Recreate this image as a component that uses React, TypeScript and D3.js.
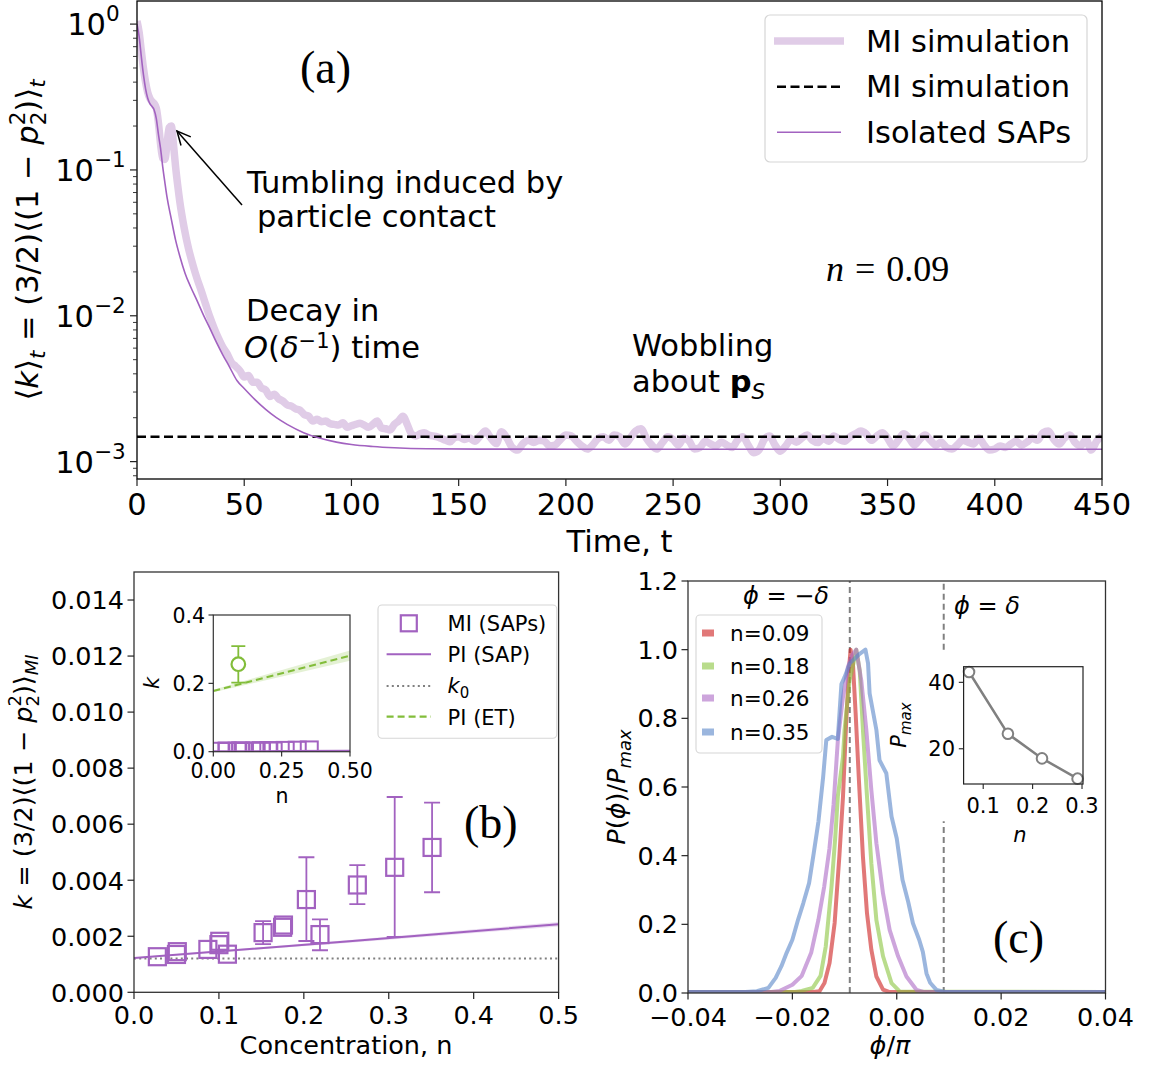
import React from 'react';
import * as d3 from 'd3';

const W = 1159;
const H = 1067;
const SANS = '"DejaVu Sans", sans-serif';
const SERIF = '"Liberation Serif", "DejaVu Serif", serif';
const PURPLE = '#a262c0';
const LIGHT_PURPLE = '#e0cce7';
const GREEN = '#82bd3a';
const GRAY = '#808080';
const FA = 30.5; // font size used in panel (a)

// ---------- (a) relaxation of k(t) ----------
// isolated SAP curve [t, k]
const isoSeries: [number, number][] = [
  [0, 1.0], [1, 0.82], [2, 0.6], [3, 0.45], [4, 0.36], [5, 0.31], [6, 0.285], [7, 0.272],
  [8, 0.258], [9, 0.225], [10, 0.175], [11, 0.14], [12, 0.105], [13, 0.082], [14, 0.065],
  [16, 0.046], [18, 0.033], [20, 0.0255], [22.4, 0.0196], [25, 0.0158], [28, 0.0127],
  [31, 0.0101], [34, 0.0082], [37, 0.0066], [40, 0.0054], [43, 0.0045], [46.6, 0.0036],
  [50, 0.00317], [55, 0.00266], [60, 0.00228], [65, 0.002], [70, 0.0018], [77.7, 0.00158],
  [85, 0.00145], [93, 0.00136], [100, 0.00131], [110, 0.00127], [120, 0.001245],
  [135, 0.001225], [160, 0.001218], [250, 0.001216], [450, 0.001216],
];

// MI simulation, early part [t, k]
const miEarly: [number, number][] = [
  [0, 1.05], [1, 0.88], [2, 0.66], [3, 0.5], [4, 0.4], [5, 0.34], [6, 0.31], [7, 0.295],
  [8, 0.285], [9, 0.265], [10, 0.21], [11, 0.15], [12, 0.12], [13, 0.118], [14, 0.15],
  [15, 0.195], [16, 0.2], [17, 0.15], [18, 0.105], [19, 0.078], [20, 0.06], [22, 0.04],
  [24, 0.029], [26, 0.0225], [28, 0.018], [30, 0.0148], [32, 0.012], [34, 0.0098],
  [36, 0.0082], [38, 0.007], [40, 0.0061], [42, 0.0055], [44, 0.0048], [46, 0.0045],
  [48, 0.0042], [50, 0.0038], [52, 0.0039], [54, 0.0035], [56, 0.0035], [58, 0.0032],
  [60, 0.0031], [62, 0.0028], [64, 0.0029], [66, 0.0027], [68, 0.0026], [70, 0.00245],
  [72, 0.0024], [74, 0.0023], [76, 0.00225], [78, 0.0021], [80, 0.00205], [82, 0.0019],
  [84, 0.00195], [86, 0.00188], [88, 0.0019], [90, 0.00182], [92, 0.0018], [94, 0.00178],
  [96, 0.00185], [98, 0.00172], [100, 0.00176], [102, 0.0018], [104, 0.00183],
  [106, 0.00178], [108, 0.00172], [110, 0.0018], [112, 0.0019], [114, 0.0017],
  [116, 0.00168], [118, 0.00165], [120, 0.0018], [122, 0.0019], [124, 0.00205],
  [126, 0.0018], [128, 0.00155], [130, 0.0015], [132, 0.00155], [134, 0.00158],
  [136, 0.00152], [138, 0.0015], [140, 0.00148], [142, 0.00144], [144, 0.0014],
  [146, 0.00137], [148, 0.00146], [150, 0.00148],
];

// MI simulation, wobbling tail [t, k x 1e-3]
const miTailMilli: [number, number][] = [
  [152.5, 1.42], [155, 1.45], [157.5, 1.38], [160, 1.5], [162.5, 1.62], [165, 1.45], [167.5, 1.33],
  [170, 1.6], [172.5, 1.45], [175, 1.25], [177.5, 1.2], [180, 1.33], [182.5, 1.4], [185, 1.35],
  [187.5, 1.4], [190, 1.38], [192.5, 1.28], [195, 1.3], [197.5, 1.42], [200, 1.52], [202.5, 1.5],
  [205, 1.38], [207.5, 1.28], [210, 1.22], [212.5, 1.3], [215, 1.44], [217.5, 1.48], [220, 1.4],
  [222.5, 1.52], [225, 1.48], [227.5, 1.32], [230, 1.45], [232.5, 1.62], [235, 1.68], [237.5, 1.45],
  [240, 1.3], [242.5, 1.22], [245, 1.35], [247.5, 1.48], [250, 1.42], [252.5, 1.3], [255, 1.45],
  [257.5, 1.38], [260, 1.22], [262.5, 1.25], [265, 1.38], [267.5, 1.32], [270, 1.28], [272.5, 1.36],
  [275, 1.3], [277.5, 1.25], [280, 1.4], [282.5, 1.48], [285, 1.3], [287.5, 1.15], [290, 1.2],
  [292.5, 1.42], [295, 1.5], [297.5, 1.3], [300, 1.18], [302.5, 1.28], [305, 1.42], [307.5, 1.36],
  [310, 1.45], [312.5, 1.52], [315, 1.4], [317.5, 1.35], [320, 1.45], [322.5, 1.38], [325, 1.5],
  [327.5, 1.42], [330, 1.38], [332.5, 1.48], [335, 1.55], [337.5, 1.62], [340, 1.55], [342.5, 1.4],
  [345, 1.5], [347.5, 1.58], [350, 1.45], [352.5, 1.28], [355, 1.4], [357.5, 1.55], [360, 1.45],
  [362.5, 1.3], [365, 1.42], [367.5, 1.52], [370, 1.4], [372.5, 1.3], [375, 1.36], [377.5, 1.25],
  [380, 1.22], [382.5, 1.3], [385, 1.4], [387.5, 1.36], [390, 1.32], [392.5, 1.45], [395, 1.3],
  [397.5, 1.2], [400, 1.22], [402.5, 1.28], [405, 1.25], [407.5, 1.32], [410, 1.38], [412.5, 1.3],
  [415, 1.36], [417.5, 1.45], [420, 1.4], [422.5, 1.58], [425, 1.62], [427.5, 1.42], [430, 1.32],
  [432.5, 1.45], [435, 1.52], [437.5, 1.35], [440, 1.28], [442.5, 1.42], [445, 1.2], [447.5, 1.38],
  [450, 1.5],
];
const miMean = 0.00148; // dashed line
const timeTicks = [0, 50, 100, 150, 200, 250, 300, 350, 400, 450];

// ---------- (b) k vs concentration ----------
const miN = [0.0275, 0.05, 0.051, 0.087, 0.1, 0.101, 0.11, 0.152, 0.175, 0.176, 0.203, 0.219, 0.263, 0.307, 0.351];
const miKb = [0.00127, 0.00135, 0.00145, 0.00153, 0.0017, 0.00182, 0.00136, 0.00213, 0.00232, 0.0024, 0.00331, 0.00206, 0.00383, 0.00446, 0.00517];
const miLo = [0.00127, 0.00135, 0.00145, 0.00153, 0.0017, 0.00182, 0.00136, 0.00172, 0.00232, 0.0024, 0.00183, 0.0015, 0.00315, 0.00198, 0.00357];
const miHi = [0.00127, 0.00135, 0.00145, 0.00153, 0.0017, 0.00182, 0.00136, 0.00254, 0.00232, 0.0024, 0.00482, 0.0026, 0.00454, 0.00697, 0.00677];
const piN = [0, 0.25, 0.5];
const piK = [0.00122, 0.00181, 0.00243];
const piBand = [0.00002, 0.00005, 0.00008];
const k0 = 0.00121;
const bXTicks = [0, 0.1, 0.2, 0.3, 0.4, 0.5];
const bYTicks = [0, 0.002, 0.004, 0.006, 0.008, 0.01, 0.012, 0.014];
// inset: ellipsoidal tumbler
const etN = [0, 0.5];
const etK = [0.1776, 0.281];
const etBand = [0.004, 0.015];
const etPoint = { n: 0.0915, k: 0.256, lo: 0.202, hi: 0.309 };

// ---------- (c) distributions of phi ----------
const phiSeries = [
  {
    label: 'n=0.09', color: '#cd1e1e',
    phi: [-0.04, -0.016, -0.0148, -0.01385, -0.01288, -0.0119, -0.011, -0.0103, -0.0097, -0.00917, -0.00885, -0.0084, -0.00788, -0.00725, -0.00648, -0.0057, -0.00487, -0.0039, -0.00263, -0.0015, 0.04],
    p: [0.003, 0.003, 0.005, 0.029, 0.087, 0.204, 0.397, 0.572, 0.785, 0.94, 1.0, 0.96, 0.815, 0.62, 0.397, 0.232, 0.126, 0.048, 0.01, 0.003, 0.003],
  },
  {
    label: 'n=0.18', color: '#8ac53f',
    phi: [-0.04, -0.0195, -0.0182, -0.0161, -0.0146, -0.0136, -0.0125, -0.0118, -0.01128, -0.0103, -0.01, -0.00904, -0.0083, -0.00776, -0.0071, -0.00648, -0.0057, -0.00487, -0.0039, -0.00263, -0.001, 0.0006, 0.04],
    p: [0.003, 0.003, 0.006, 0.015, 0.05, 0.136, 0.31, 0.45, 0.574, 0.688, 0.766, 0.911, 0.96, 1.0, 0.94, 0.766, 0.572, 0.378, 0.212, 0.107, 0.029, 0.004, 0.003],
  },
  {
    label: 'n=0.26', color: '#ac69c5',
    phi: [-0.04, -0.024, -0.0225, -0.02, -0.0182, -0.0164, -0.015, -0.0139, -0.0129, -0.0121, -0.01128, -0.0103, -0.00936, -0.0085, -0.00776, -0.0068, -0.00583, -0.00487, -0.0039, -0.00263, -0.00135, 0.00026, 0.00186, 0.0038, 0.0051, 0.04],
    p: [0.003, 0.003, 0.006, 0.024, 0.05, 0.117, 0.214, 0.31, 0.42, 0.55, 0.737, 0.862, 0.95, 0.985, 1.0, 0.911, 0.766, 0.591, 0.436, 0.29, 0.183, 0.107, 0.048, 0.0087, 0.003, 0.003],
  },
  {
    label: 'n=0.35', color: '#5885c8',
    phi: [-0.04, -0.029, -0.0268, -0.0246, -0.0232, -0.0221, -0.0211, -0.02, -0.0189, -0.0179, -0.0168, -0.0159, -0.015, -0.0141, -0.0135, -0.0124, -0.0113, -0.0106, -0.01, -0.009, -0.0071, -0.006, -0.0055, -0.0052, -0.0039, -0.0033, -0.002, -0.001, 0.0, 0.0011, 0.0022, 0.0031, 0.0043, 0.005, 0.0057, 0.0064, 0.0076, 0.0093, 0.04],
    p: [0.003, 0.003, 0.005, 0.015, 0.044, 0.078, 0.117, 0.155, 0.214, 0.262, 0.32, 0.408, 0.5, 0.63, 0.737, 0.746, 0.74, 0.9, 0.92, 0.96, 0.988, 1.0, 0.96, 0.873, 0.766, 0.678, 0.64, 0.514, 0.45, 0.33, 0.265, 0.203, 0.155, 0.12, 0.057, 0.03, 0.009, 0.003, 0.003],
  },
];
const delta = 0.009;
const cXTicks = [-0.04, -0.02, 0, 0.02, 0.04];
const cYTicks = [0, 0.2, 0.4, 0.6, 0.8, 1.0, 1.2];
const pmaxN = [0.0713, 0.15, 0.219, 0.291];
const pmaxV = [43.1, 24.5, 17.1, 11.0];

const fmtMinus = (s: string) => s.replace('-', '\u2212');

export default function App() {
  // scales
  const xA = d3.scaleLinear().domain([0, 450]).range([137, 1102]);
  const yA = d3.scaleLog().domain([7.6e-4, 1.44]).range([479, 1]);
  const xB = d3.scaleLinear().domain([0, 0.5]).range([134, 558.6]);
  const yB = d3.scaleLinear().domain([0, 0.015]).range([992.3, 572]);
  const xBi = d3.scaleLinear().domain([0, 0.5]).range([213.3, 350]);
  const yBi = d3.scaleLinear().domain([0, 0.4]).range([751.7, 615]);
  const xC = d3.scaleLinear().domain([-0.04, 0.04]).range([688, 1105.5]);
  const yC = d3.scaleLinear().domain([0, 1.2]).range([993, 581]);
  const pad = (e: [number, number]) => [e[0] - 0.05 * (e[1] - e[0]), e[1] + 0.05 * (e[1] - e[0])];
  const xCi = d3.scaleLinear().domain(pad(d3.extent(pmaxN) as [number, number])).range([963.6, 1083]);
  const yCi = d3.scaleLinear().domain(pad(d3.extent(pmaxV) as [number, number])).range([784, 666.7]);

  const lineA = d3.line<[number, number]>().x(d => xA(d[0])).y(d => yA(d[1])).curve(d3.curveMonotoneX);
  const miAll: [number, number][] = [...miEarly, ...miTailMilli.map(([t, v]) => [t, v / 1000] as [number, number])];

  // log ticks
  const majorA = [1e-3, 1e-2, 1e-1, 1];
  const minorA: number[] = [];
  [-4, -3, -2, -1, 0].forEach(e => {
    for (let m = 2; m <= 9; m++) {
      const v = m * Math.pow(10, e);
      if (v >= 7.6e-4 && v <= 1.44) minorA.push(v);
    }
  });

  // arrow
  const arrFrom = [242, 205];
  const arrTo = [177, 131];
  const ang = Math.atan2(arrTo[1] - arrFrom[1], arrTo[0] - arrFrom[0]);
  const ah = 15;
  const arm = (s: number) => [arrTo[0] - ah * Math.cos(ang + s * 0.45), arrTo[1] - ah * Math.sin(ang + s * 0.45)];

  const piLine = d3.line<number>().x((_, i) => xB(piN[i])).y(d => yB(d));
  const piArea = d3.area<number>().x((_, i) => xB(piN[i])).y0((d, i) => yB(d - piBand[i])).y1((d, i) => yB(d + piBand[i]));
  const piLineI = d3.line<number>().x((_, i) => xBi(piN[i])).y(d => yBi(d));
  const etLine = d3.line<number>().x((_, i) => xBi(etN[i])).y(d => yBi(d));
  const etArea = d3.area<number>().x((_, i) => xBi(etN[i])).y0((d, i) => yBi(d - etBand[i])).y1((d, i) => yBi(d + etBand[i]));

  const sq = 17;
  const tickColor = '#222';

  return (
    <svg width={W} height={H} style={{ position: 'absolute', left: 0, top: 0, background: '#fff' }} fontFamily={SANS}>
      <defs>
        <clipPath id="clipA"><rect x={137} y={1} width={965} height={478} /></clipPath>
        <clipPath id="clipB"><rect x={134} y={572} width={424.6} height={420.3} /></clipPath>
        <clipPath id="clipBi"><rect x={213.3} y={615} width={136.7} height={136.7} /></clipPath>
        <clipPath id="clipC"><rect x={688} y={581} width={417.5} height={412} /></clipPath>
      </defs>
      <rect x={0} y={0} width={W} height={H} fill="#fff" />

      {/* ================= (a) ================= */}
      <g clipPath="url(#clipA)">
        <path d={lineA(miAll) || ''} fill="none" stroke={LIGHT_PURPLE} strokeWidth={7.5} strokeLinejoin="round" />
        <line x1={xA(0)} x2={xA(450)} y1={yA(miMean)} y2={yA(miMean)} stroke="#000" strokeWidth={2.4} strokeDasharray="9,4.5" />
        <path d={lineA(isoSeries) || ''} fill="none" stroke={PURPLE} strokeWidth={1.6} />
      </g>
      <rect x={137} y={1} width={965} height={478} fill="none" stroke="#000" strokeWidth={1.3} />
      {timeTicks.map(t => (
        <g key={'ta' + t}>
          <line x1={xA(t)} x2={xA(t)} y1={479} y2={486} stroke={tickColor} strokeWidth={1.2} />
          <text x={xA(t)} y={515} fontSize={FA} textAnchor="middle">{t}</text>
        </g>
      ))}
      {majorA.map((v, i) => (
        <g key={'ya' + i}>
          <line x1={130} x2={137} y1={yA(v)} y2={yA(v)} stroke={tickColor} strokeWidth={1.2} />
          <text x={i === 3 ? 106 : 94} y={yA(v) + 11} fontSize={FA} textAnchor="end">10</text>
          <text x={i === 3 ? 106 : 94} y={yA(v) - 3} fontSize={21.5} textAnchor="start">{i === 3 ? '0' : '\u2212' + (3 - i)}</text>
        </g>
      ))}
      {minorA.map((v, i) => (
        <line key={'ma' + i} x1={133} x2={137} y1={yA(v)} y2={yA(v)} stroke={tickColor} strokeWidth={0.9} />
      ))}
      <text x={619.5} y={552} fontSize={FA} textAnchor="middle">Time, t</text>
      <text transform="translate(38,240) rotate(-90)" fontSize={FA} textAnchor="middle">
        {'\u27e8'}<tspan fontStyle="italic">k</tspan>{'\u27e9'}
        <tspan dy={7} fontSize={21.5} fontStyle="italic">t</tspan>
        <tspan dy={-7}>{' = (3/2)\u27e8(1 \u2212 '}</tspan>
        <tspan fontStyle="italic">p</tspan>
        <tspan dy={-13} fontSize={21.5}>2</tspan>
        <tspan dx={-13.7} dy={21} fontSize={21.5}>2</tspan>
        <tspan dy={-8}>{')\u27e9'}</tspan>
        <tspan dy={7} fontSize={21.5} fontStyle="italic">t</tspan>
      </text>

      {/* annotations */}
      <text x={300} y={83} fontFamily={SERIF} fontSize={46}>(a)</text>
      <text x={247} y={193} fontSize={FA}>Tumbling induced by</text>
      <text x={257} y={227} fontSize={FA}>particle contact</text>
      <line x1={arrFrom[0]} y1={arrFrom[1]} x2={arrTo[0]} y2={arrTo[1]} stroke="#000" strokeWidth={1.5} />
      <polyline points={`${arm(1).join(',')} ${arrTo.join(',')} ${arm(-1).join(',')}`} fill="none" stroke="#000" strokeWidth={1.5} />
      <text x={246} y={321} fontSize={FA}>Decay in</text>
      <text x={244} y={358} fontSize={FA}>
        <tspan fontStyle="italic">O</tspan>(<tspan fontStyle="italic">{'\u03b4'}</tspan>
        <tspan dy={-10.5} fontSize={21}>{'\u22121'}</tspan>
        <tspan dy={10.5}>) time</tspan>
      </text>
      <text x={632} y={356} fontSize={FA}>Wobbling</text>
      <text x={632} y={392} fontSize={FA}>
        about <tspan fontWeight="bold">p</tspan>
        <tspan dy={7} fontSize={21.5} fontStyle="italic">S</tspan>
      </text>
      <text x={826} y={281} fontFamily={SERIF} fontSize={36}>
        <tspan fontStyle="italic">n</tspan>
        <tspan dx={11}>=</tspan>
        <tspan dx={11}>0.09</tspan>
      </text>

      {/* legend (a) */}
      <rect x={765} y={15} width={322} height={147} rx={5} fill="#fff" fillOpacity={0.85} stroke="#d6d6d6" strokeWidth={1.2} />
      <line x1={774} x2={844} y1={41} y2={41} stroke={LIGHT_PURPLE} strokeWidth={7.5} />
      <text x={866} y={51.5} fontSize={FA}>MI simulation</text>
      <line x1={777} x2={841} y1={86.7} y2={86.7} stroke="#000" strokeWidth={2.4} strokeDasharray="9,4.5" />
      <text x={866} y={97} fontSize={FA}>MI simulation</text>
      <line x1={777} x2={841} y1={132.3} y2={132.3} stroke={PURPLE} strokeWidth={1.6} />
      <text x={866} y={143} fontSize={FA}>Isolated SAPs</text>

      {/* ================= (b) ================= */}
      <g clipPath="url(#clipB)">
        <line x1={xB(0)} x2={xB(0.5)} y1={yB(k0)} y2={yB(k0)} stroke={GRAY} strokeWidth={2} strokeDasharray="2,3.2" />
        <path d={piArea(piK) || ''} fill={PURPLE} fillOpacity={0.22} />
        <path d={piLine(piK) || ''} fill="none" stroke={PURPLE} strokeWidth={2} />
        {miN.map((n, i) => (
          <g key={'eb' + i} stroke={PURPLE} strokeWidth={1.8}>
            {miHi[i] > miLo[i] && (
              <>
                <line x1={xB(n)} x2={xB(n)} y1={yB(miLo[i])} y2={yB(miHi[i])} />
                <line x1={xB(n) - 8} x2={xB(n) + 8} y1={yB(miLo[i])} y2={yB(miLo[i])} />
                <line x1={xB(n) - 8} x2={xB(n) + 8} y1={yB(miHi[i])} y2={yB(miHi[i])} />
              </>
            )}
          </g>
        ))}
        {miN.map((n, i) => (
          <rect key={'sq' + i} x={xB(n) - sq / 2} y={yB(miKb[i]) - sq / 2} width={sq} height={sq}
            fill="none" stroke={PURPLE} strokeWidth={2.2} />
        ))}
      </g>
      <rect x={134} y={572} width={424.6} height={420.3} fill="none" stroke="#333" strokeWidth={1.3} />
      {bXTicks.map(t => (
        <g key={'tb' + t}>
          <line x1={xB(t)} x2={xB(t)} y1={992.3} y2={999} stroke={tickColor} strokeWidth={1.2} />
          <text x={xB(t)} y={1024} fontSize={25.5} textAnchor="middle">{t.toFixed(1)}</text>
        </g>
      ))}
      {bYTicks.map(t => (
        <g key={'yb' + t}>
          <line x1={127.5} x2={134} y1={yB(t)} y2={yB(t)} stroke={tickColor} strokeWidth={1.2} />
          <text x={124} y={yB(t) + 9.3} fontSize={25.5} textAnchor="end">{t.toFixed(3)}</text>
        </g>
      ))}
      <text x={346} y={1054} fontSize={25.5} textAnchor="middle">Concentration, n</text>
      <text transform="translate(32,782) rotate(-90)" fontSize={25.5} textAnchor="middle">
        <tspan fontStyle="italic">k</tspan>
        <tspan>{' = (3/2)\u27e8(1 \u2212 '}</tspan>
        <tspan fontStyle="italic">p</tspan>
        <tspan dy={-11} fontSize={18}>2</tspan>
        <tspan dx={-11.5} dy={18} fontSize={18}>2</tspan>
        <tspan dy={-7}>{')\u27e9'}</tspan>
        <tspan dy={6} fontSize={18} fontStyle="italic">MI</tspan>
      </text>
      <text x={464} y={838} fontFamily={SERIF} fontSize={46}>(b)</text>

      {/* inset (b) */}
      <rect x={213.3} y={615} width={136.7} height={136.7} fill="#fff" />
      <g clipPath="url(#clipBi)">
        <path d={etArea(etK) || ''} fill={GREEN} fillOpacity={0.22} />
        <path d={etLine(etK) || ''} fill="none" stroke={GREEN} strokeWidth={2} strokeDasharray="7,4" />
        <path d={piLineI(piK) || ''} fill="none" stroke={PURPLE} strokeWidth={2} />
        {miN.map((n, i) => (
          <rect key={'isq' + i} x={xBi(n) - sq / 2} y={yBi(miKb[i]) - sq / 2} width={sq} height={sq}
            fill="none" stroke={PURPLE} strokeWidth={2} />
        ))}
        <g stroke={GREEN} strokeWidth={1.8}>
          <line x1={xBi(etPoint.n)} x2={xBi(etPoint.n)} y1={yBi(etPoint.lo)} y2={yBi(etPoint.hi)} />
          <line x1={xBi(etPoint.n) - 7} x2={xBi(etPoint.n) + 7} y1={yBi(etPoint.lo)} y2={yBi(etPoint.lo)} />
          <line x1={xBi(etPoint.n) - 7} x2={xBi(etPoint.n) + 7} y1={yBi(etPoint.hi)} y2={yBi(etPoint.hi)} />
        </g>
        <circle cx={xBi(etPoint.n)} cy={yBi(etPoint.k)} r={6.8} fill="#fff" stroke={GREEN} strokeWidth={2.2} />
      </g>
      <rect x={213.3} y={615} width={136.7} height={136.7} fill="none" stroke="#333" strokeWidth={1.2} />
      {[0, 0.25, 0.5].map(t => (
        <g key={'tbi' + t}>
          <line x1={xBi(t)} x2={xBi(t)} y1={751.7} y2={756.5} stroke={tickColor} strokeWidth={1.1} />
          <text x={xBi(t)} y={778} fontSize={20.5} textAnchor="middle">{t.toFixed(2)}</text>
        </g>
      ))}
      {[0, 0.2, 0.4].map(t => (
        <g key={'ybi' + t}>
          <line x1={208.5} x2={213.3} y1={yBi(t)} y2={yBi(t)} stroke={tickColor} strokeWidth={1.1} />
          <text x={205} y={yBi(t) + 7.5} fontSize={20.5} textAnchor="end">{t.toFixed(1)}</text>
        </g>
      ))}
      <text x={282} y={803} fontSize={20.5} textAnchor="middle">n</text>
      <text transform="translate(159,683) rotate(-90)" fontSize={21} fontStyle="italic" textAnchor="middle">k</text>

      {/* legend (b) */}
      <rect x={378} y={605} width={178.8} height={133.3} rx={4} fill="#fff" fillOpacity={0.85} stroke="#d6d6d6" strokeWidth={1.1} />
      <rect x={408.8 - 8} y={623.3 - 8} width={16} height={16} fill="none" stroke={PURPLE} strokeWidth={2.2} />
      <text x={447.6} y={631} fontSize={21}>MI (SAPs)</text>
      <line x1={386.6} x2={431} y1={654.3} y2={654.3} stroke={PURPLE} strokeWidth={2} />
      <text x={447.6} y={662} fontSize={21}>PI (SAP)</text>
      <line x1={386.6} x2={431} y1={686} y2={686} stroke={GRAY} strokeWidth={2} strokeDasharray="2,3.2" />
      <text x={447.6} y={693} fontSize={21}>
        <tspan fontStyle="italic">k</tspan><tspan dy={5} fontSize={15}>0</tspan>
      </text>
      <line x1={386.6} x2={431} y1={716.7} y2={716.7} stroke={GREEN} strokeWidth={2.2} strokeDasharray="7,4" />
      <text x={447.6} y={724.5} fontSize={21}>PI (ET)</text>

      {/* ================= (c) ================= */}
      <g clipPath="url(#clipC)">
        <line x1={xC(-delta)} x2={xC(-delta)} y1={yC(0)} y2={yC(1.2)} stroke={GRAY} strokeWidth={2} strokeDasharray="6,4" />
        <line x1={xC(delta)} x2={xC(delta)} y1={yC(0)} y2={yC(0.5)} stroke={GRAY} strokeWidth={2} strokeDasharray="6,4" />
        <line x1={xC(delta)} x2={xC(delta)} y1={yC(1.0)} y2={yC(1.2)} stroke={GRAY} strokeWidth={2} strokeDasharray="6,4" />
        {phiSeries.map(s => {
          const ln = d3.line<number>().x((_, i) => xC(s.phi[i])).y(d => yC(d));
          return <path key={s.label} d={ln(s.p) || ''} fill="none" stroke={s.color} strokeOpacity={0.6} strokeWidth={4} strokeLinejoin="round" />;
        })}
      </g>
      <rect x={688} y={581} width={417.5} height={412} fill="none" stroke="#333" strokeWidth={1.3} />
      {cXTicks.map(t => (
        <g key={'tc' + t}>
          <line x1={xC(t)} x2={xC(t)} y1={993} y2={999.5} stroke={tickColor} strokeWidth={1.2} />
          <text x={xC(t)} y={1026} fontSize={25.5} textAnchor="middle">{fmtMinus(t.toFixed(2))}</text>
        </g>
      ))}
      {cYTicks.map(t => (
        <g key={'yc' + t}>
          <line x1={681.5} x2={688} y1={yC(t)} y2={yC(t)} stroke={tickColor} strokeWidth={1.2} />
          <text x={678} y={yC(t) + 9} fontSize={25.5} textAnchor="end">{t.toFixed(1)}</text>
        </g>
      ))}
      <text x={890} y={1054} fontSize={25.5} textAnchor="middle">
        <tspan fontStyle="italic">{'\u03d5'}</tspan>/<tspan fontStyle="italic">{'\u03c0'}</tspan>
      </text>
      <text transform="translate(625,787) rotate(-90)" fontSize={25.5} textAnchor="middle">
        <tspan fontStyle="italic">P</tspan>(<tspan fontStyle="italic">{'\u03d5'}</tspan>)/<tspan fontStyle="italic">P</tspan>
        <tspan dy={6} fontSize={18} fontStyle="italic">max</tspan>
      </text>
      <text x={743} y={604} fontSize={24}>
        <tspan fontStyle="italic">{'\u03d5'}</tspan>{' = \u2212'}<tspan fontStyle="italic">{'\u03b4'}</tspan>
      </text>
      <text x={954} y={614} fontSize={24}>
        <tspan fontStyle="italic">{'\u03d5'}</tspan>{' = '}<tspan fontStyle="italic">{'\u03b4'}</tspan>
      </text>
      <text x={993} y={953} fontFamily={SERIF} fontSize={46}>(c)</text>

      {/* legend (c) */}
      <rect x={696} y={615} width={126} height={138} rx={4} fill="#fff" fillOpacity={0.85} stroke="#d6d6d6" strokeWidth={1.1} />
      {phiSeries.map((s, i) => (
        <g key={'lc' + s.label}>
          <rect x={702} y={[633, 666, 698, 732][i] - 3.5} width={12} height={7} fill={s.color} fillOpacity={0.6} />
          <text x={730} y={[633, 666, 698, 732][i] + 7.8} fontSize={21.5}>{s.label}</text>
        </g>
      ))}

      {/* inset (c) */}
      <rect x={963.6} y={666.7} width={119.4} height={117.3} fill="#fff" />
      <path d={d3.line<number>().x((_, i) => xCi(pmaxN[i])).y(d => yCi(d))(pmaxV) || ''} fill="none" stroke={GRAY} strokeWidth={2.5} />
      {pmaxN.map((n, i) => (
        <circle key={'pm' + i} cx={xCi(n)} cy={yCi(pmaxV[i])} r={5.3} fill="#fff" stroke={GRAY} strokeWidth={2} />
      ))}
      <rect x={963.6} y={666.7} width={119.4} height={117.3} fill="none" stroke="#222" strokeWidth={1.2} />
      {[0.1, 0.2, 0.3].map(t => (
        <g key={'tci' + t}>
          <line x1={xCi(t)} x2={xCi(t)} y1={784} y2={789} stroke={tickColor} strokeWidth={1.1} />
          <text x={xCi(t)} y={813} fontSize={21} textAnchor="middle">{t.toFixed(1)}</text>
        </g>
      ))}
      {[20, 40].map(t => (
        <g key={'yci' + t}>
          <line x1={958.8} x2={963.6} y1={yCi(t)} y2={yCi(t)} stroke={tickColor} strokeWidth={1.1} />
          <text x={955} y={yCi(t) + 7.6} fontSize={21} textAnchor="end">{t}</text>
        </g>
      ))}
      <text x={1020} y={842} fontSize={21} fontStyle="italic" textAnchor="middle">n</text>
      <text transform="translate(906,725) rotate(-90)" fontSize={21} textAnchor="middle">
        <tspan fontStyle="italic">P</tspan>
        <tspan dy={5} fontSize={15} fontStyle="italic">max</tspan>
      </text>
    </svg>
  );
}
